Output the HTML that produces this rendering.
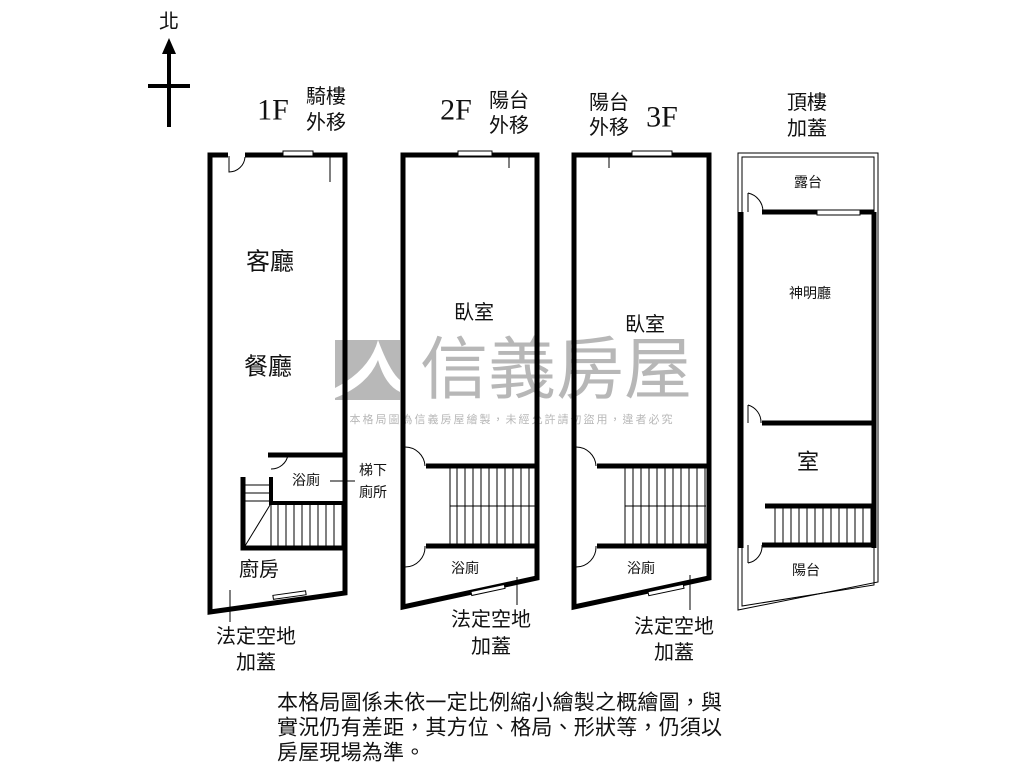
<!DOCTYPE html>
<html><head><meta charset="utf-8"><style>
html,body{margin:0;padding:0;background:#fff;width:1024px;height:768px;overflow:hidden}
svg{display:block}
text{font-family:"Liberation Sans","Noto Sans CJK TC",sans-serif;fill:#111;text-anchor:middle;dominant-baseline:central}
.s{font-family:"Liberation Serif","Noto Serif CJK SC",serif}
</style></head><body>
<svg width="1024" height="768" viewBox="0 0 1024 768">
<!-- watermark -->
<g opacity="0.6">
<rect x="335" y="340" width="65" height="60" fill="#8a8a8a"/>
<path d="M335 388 Q370 370 378 340 Q390 372 400 380 L400 392 Q385 385 378 360 Q368 385 335 398Z" fill="#fff"/>
<text x="556" y="370" style="font-size:68px;fill:#888">信義房屋</text>
<text x="512" y="420" style="font-size:11px;fill:#888;letter-spacing:2px">本格局圖為信義房屋繪製，未經允許請勿盜用，違者必究</text>
</g>
<!-- north arrow -->
<text x="169" y="22" style="font-size:20px">北</text>
<line x1="169" y1="50" x2="169" y2="127" stroke="#000" stroke-width="4"/>
<polygon points="169,38 162,54 176,54" fill="#000"/>
<line x1="148" y1="86" x2="190" y2="86" stroke="#000" stroke-width="4"/>

<g stroke="#000" fill="none">
<!-- 1F -->
<path d="M228 155 H210 V612 L345 593 V155 H245" stroke-width="5"/>
<rect x="283" y="151" width="30" height="5" fill="#fff" stroke-width="1"/>
<path d="M229 156 V172 A16 16 0 0 0 245 157" stroke-width="1"/>
<path d="M268 455 H345" stroke-width="5"/>
<path d="M271 477 V503 H345" stroke-width="4"/>
<path d="M243 477 V548 H345" stroke-width="5"/>
<path d="M271 469 A17 17 0 0 0 288 455" stroke-width="1"/>
<g stroke-width="1"><path d="M245 485H270M245 493H270M245 501H270M245 546L270 505"/>
<path d="M278 503V546M286 503V546M294 503V546M302 503V546M310 503V546M318 503V546M326 503V546M334 503V546M342 503V546M271 503V548"/></g>
<rect x="273" y="593" width="33" height="4" fill="#fff" stroke-width="1" transform="rotate(-8 290 595)"/>
<line x1="330" y1="155" x2="330" y2="182" stroke-width="1"/>
<line x1="230" y1="590" x2="230" y2="622" stroke-width="1"/>
<line x1="330" y1="481" x2="355" y2="481" stroke-width="1"/>

<!-- 2F -->
<path d="M403 155 V607 L537 578 V155 Z" stroke-width="5"/>
<rect x="458" y="151" width="34" height="5" fill="#fff" stroke-width="1"/>
<path d="M426 466 H537 M426 546 H537" stroke-width="5"/>
<path d="M405 447 A20 20 0 0 1 425 466 M405 567 A20 20 0 0 0 425 546" stroke-width="1"/>
<g stroke-width="1"><path d="M450 468V544M505 506H535"/>
<path d="M450 506H535M457 468V544M465 468V544M473 468V544M481 468V544M489 468V544M497 468V544M505 468V544M513 468V544M521 468V544M529 468V544"/></g>
<rect x="471" y="588" width="34" height="4" fill="#fff" stroke-width="1" transform="rotate(-12 488 590)"/>
<line x1="509" y1="155" x2="509" y2="168" stroke-width="1"/>
<line x1="517" y1="577" x2="517" y2="605" stroke-width="1"/>

<!-- 3F -->
<path d="M574 155 V607 L709 578 V155 Z" stroke-width="5"/>
<rect x="632" y="151" width="40" height="5" fill="#fff" stroke-width="1"/>
<path d="M597 466 H709 M597 546 H709" stroke-width="5"/>
<path d="M576 447 A20 20 0 0 1 596 466 M576 567 A20 20 0 0 0 596 546" stroke-width="1"/>
<g stroke-width="1">
<path d="M625 468V544M625 506H706M633 468V544M641 468V544M649 468V544M657 468V544M665 468V544M673 468V544M681 468V544M689 468V544M697 468V544M705 468V544"/></g>
<rect x="648" y="588" width="36" height="4" fill="#fff" stroke-width="1" transform="rotate(-12 666 590)"/>
<line x1="609" y1="155" x2="609" y2="168" stroke-width="1"/>
<line x1="690" y1="575" x2="690" y2="610" stroke-width="1"/>

<!-- roof -->
<path d="M738 153 H878 V582 L738 610 Z" stroke-width="1"/>
<path d="M742 157 H874 V585 L742 606 Z" stroke-width="1"/>
<path d="M741 212 V548 M874 212 V548" stroke-width="5"/>
<path d="M762 212 H874 M762 423 H874 M765 506 H874 M762 545 H874" stroke-width="5"/>
<rect x="817" y="210" width="43" height="5" fill="#fff" stroke-width="1"/>
<path d="M748 193 A19 19 0 0 1 763 212 M748 405 A18 18 0 0 1 761 423 M748 563 A17 17 0 0 0 762 545 M748 193V212M748 405V423M748 563V545" stroke-width="1"/>
<g stroke-width="1"><path d="M775 506V545M783 506V545M791 506V545M799 506V545M807 506V545M815 506V545M823 506V545M831 506V545M839 506V545M847 506V545M855 506V545M863 506V545M871 506V545"/></g>
</g>

<!-- labels -->
<text class="s" x="273" y="110" style="font-size:30px">1F</text>
<text class="s" x="456" y="110" style="font-size:30px">2F</text>
<text class="s" x="662" y="117" style="font-size:30px">3F</text>
<g style="font-size:20px">
<text x="326" y="97">騎樓</text><text x="326" y="123">外移</text>
<text x="509" y="101">陽台</text><text x="509" y="126">外移</text>
<text x="609" y="103">陽台</text><text x="609" y="128">外移</text>
<text x="807" y="103">頂樓</text><text x="807" y="129">加蓋</text>
<text x="474" y="313">臥室</text>
<text x="645" y="325">臥室</text>
<text x="259" y="570">廚房</text>
<text x="256" y="637">法定空地</text><text x="256" y="663">加蓋</text>
<text x="491" y="620">法定空地</text><text x="491" y="647">加蓋</text>
<text x="674" y="627">法定空地</text><text x="674" y="653">加蓋</text>
</g>
<text x="270" y="262" style="font-size:24px">客廳</text>
<text x="268" y="367" style="font-size:24px">餐廳</text>
<text x="808" y="462" style="font-size:22px">室</text>
<g style="font-size:14px">
<text x="306" y="480">浴廁</text>
<text x="373" y="470">梯下</text><text x="373" y="492">廁所</text>
<text x="465" y="568">浴廁</text>
<text x="641" y="568">浴廁</text>
<text x="808" y="182">露台</text>
<text x="810" y="293">神明廳</text>
<text x="806" y="570">陽台</text>
</g>
<g style="font-size:21px;letter-spacing:0.2px">
<text x="277" y="703" style="text-anchor:start">本格局圖係未依一定比例縮小繪製之概繪圖，與</text>
<text x="277" y="728" style="text-anchor:start">實況仍有差距，其方位、格局、形狀等，仍須以</text>
<text x="277" y="753" style="text-anchor:start">房屋現場為準。</text>
</g>
</svg>
</body></html>
